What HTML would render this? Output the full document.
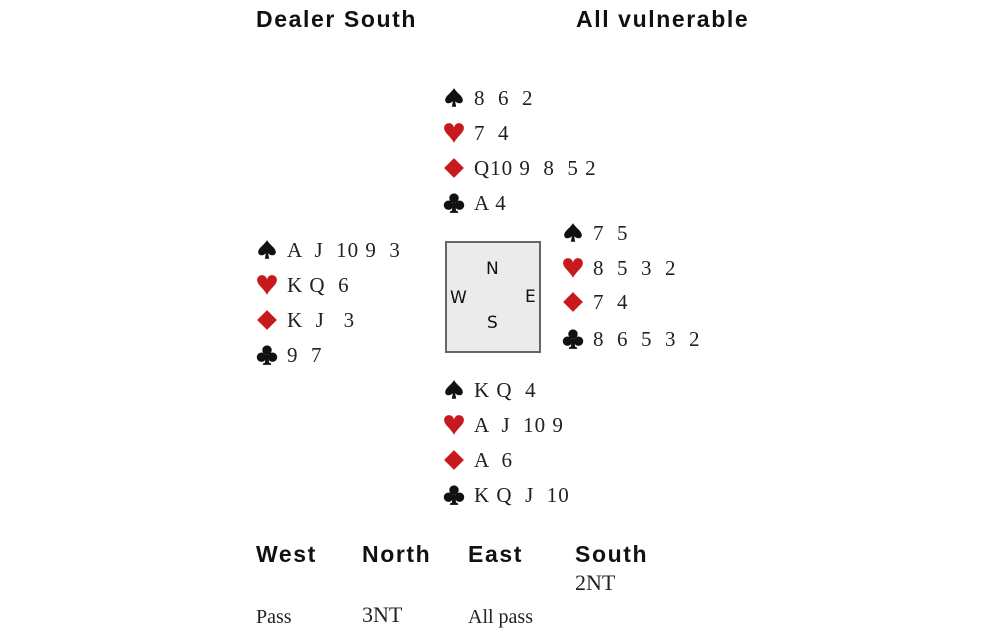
<!DOCTYPE html>
<html><head><style>
body{margin:0;width:1000px;height:642px;background:#fff;position:relative;overflow:hidden;font-family:"Liberation Serif",serif;color:#222}
.h{position:absolute;font-family:"Liberation Sans",sans-serif;font-weight:bold;font-size:23px;line-height:26px;color:#111;letter-spacing:1.6px}
.r{position:absolute;font-size:21px;line-height:24px;white-space:pre;letter-spacing:1px}
.s{display:inline-block;width:31px;height:24px;vertical-align:top}
.s svg{width:22px;height:22px;margin-top:1px}
.box{position:absolute;left:445px;top:241px;width:96px;height:112px;border:2px solid #666;background:#ebebeb;box-sizing:border-box}
.c{position:absolute;font-family:"DejaVu Sans",sans-serif;font-size:17px;color:#111}
.t{position:absolute;font-size:22px;line-height:26px}
</style></head><body>
<svg width="0" height="0" style="position:absolute">
<defs>
<symbol id="sp" viewBox="0 0 20 20"><path d="M10 1 C7 6 2 8 2 12 C2 15 6 16 9 13 L8 18 L12 18 L11 13 C14 16 18 15 18 12 C18 8 13 6 10 1Z" fill="#111"/></symbol>
<symbol id="he" viewBox="0 0 20 20"><path d="M10 19 C7 13 1 10 1 5.5 C1 2.5 3.5 1 5.5 1 C8 1 9.5 3 10 5 C10.5 3 12 1 14.5 1 C16.5 1 19 2.5 19 5.5 C19 10 13 13 10 19Z" fill="#c8191e"/></symbol>
<symbol id="di" viewBox="0 0 20 20"><path d="M10 1 L19 10 L10 19 L1 10Z" fill="#c8191e"/></symbol>
<symbol id="cl" viewBox="0 0 20 20"><g fill="#111"><circle cx="10" cy="5.5" r="4.3"/><circle cx="5" cy="12" r="4.3"/><circle cx="15" cy="12" r="4.3"/><path d="M9 9 L11 9 L12 18 L8 18Z"/><path d="M6 19 L14 19 L13 17 L7 17Z"/></g></symbol>
</defs></svg>

<div class="h" style="left:256px;top:6px">Dealer South</div>
<div class="h" style="left:576px;top:6px">All vulnerable</div>

<div class="r" style="left:443px;top:86px"><span class="s"><svg><use href="#sp"/></svg></span>8  6  2</div>
<div class="r" style="left:443px;top:121px"><span class="s"><svg><use href="#he"/></svg></span>7  4</div>
<div class="r" style="left:443px;top:156px"><span class="s"><svg><use href="#di"/></svg></span>Q10 9  8  5 2</div>
<div class="r" style="left:443px;top:191px"><span class="s"><svg><use href="#cl"/></svg></span>A 4</div>

<div class="r" style="left:256px;top:238px"><span class="s"><svg><use href="#sp"/></svg></span>A  J  10 9  3</div>
<div class="r" style="left:256px;top:273px"><span class="s"><svg><use href="#he"/></svg></span>K Q  6</div>
<div class="r" style="left:256px;top:308px"><span class="s"><svg><use href="#di"/></svg></span>K  J   3</div>
<div class="r" style="left:256px;top:343px"><span class="s"><svg><use href="#cl"/></svg></span>9  7</div>

<div class="r" style="left:562px;top:221px"><span class="s"><svg><use href="#sp"/></svg></span>7  5</div>
<div class="r" style="left:562px;top:256px"><span class="s"><svg><use href="#he"/></svg></span>8  5  3  2</div>
<div class="r" style="left:562px;top:290px"><span class="s"><svg><use href="#di"/></svg></span>7  4</div>
<div class="r" style="left:562px;top:327px"><span class="s"><svg><use href="#cl"/></svg></span>8  6  5  3  2</div>

<div class="box"></div>
<div class="c" style="left:486px;top:259px">N</div>
<div class="c" style="left:450px;top:288px">W</div>
<div class="c" style="left:525px;top:287px">E</div>
<div class="c" style="left:487px;top:313px">S</div>

<div class="r" style="left:443px;top:378px"><span class="s"><svg><use href="#sp"/></svg></span>K Q  4</div>
<div class="r" style="left:443px;top:413px"><span class="s"><svg><use href="#he"/></svg></span>A  J  10 9</div>
<div class="r" style="left:443px;top:448px"><span class="s"><svg><use href="#di"/></svg></span>A  6</div>
<div class="r" style="left:443px;top:483px"><span class="s"><svg><use href="#cl"/></svg></span>K Q  J  10</div>

<div class="h" style="left:256px;top:541px">West</div>
<div class="h" style="left:362px;top:541px">North</div>
<div class="h" style="left:468px;top:541px">East</div>
<div class="h" style="left:575px;top:541px">South</div>
<div class="t" style="left:575px;top:570px">2NT</div>
<div class="t" style="left:256px;top:604px;font-size:20px">Pass</div>
<div class="t" style="left:362px;top:602px">3NT</div>
<div class="t" style="left:468px;top:604px;font-size:20px">All pass</div>
</body></html>
